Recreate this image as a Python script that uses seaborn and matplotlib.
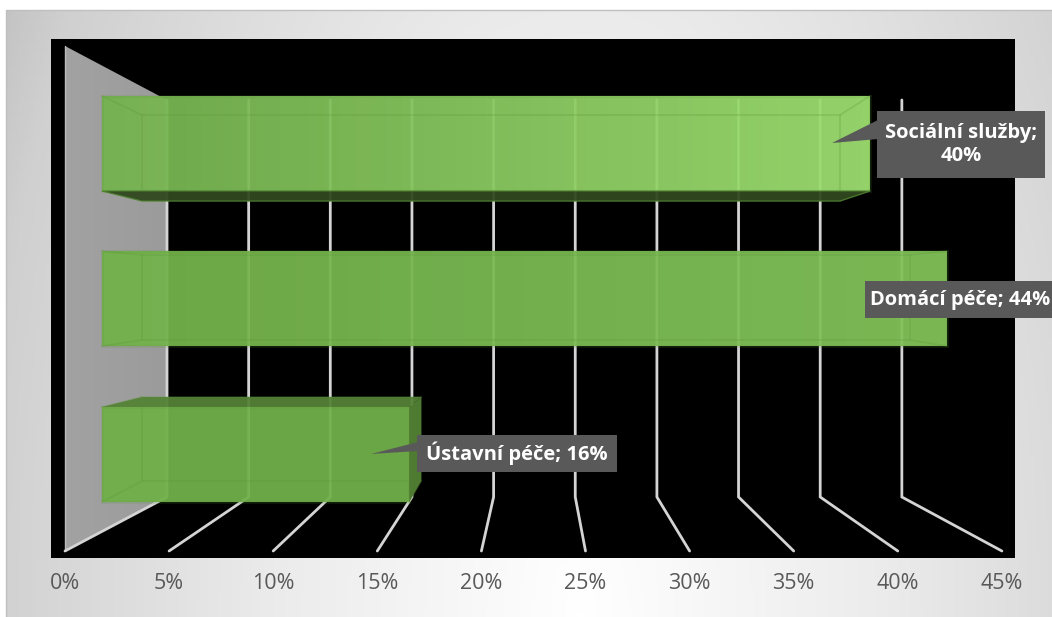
import numpy as np
import matplotlib
matplotlib.use("Agg")
import matplotlib.pyplot as plt
from matplotlib.colors import LinearSegmentedColormap
from matplotlib.patches import Polygon, Rectangle
import pandas as pd
import seaborn as sns

categories = ["Sociální služby", "Domácí péče", "Ústavní péče"]
values = [40, 44, 16]
tick_values = [0, 5, 10, 15, 20, 25, 30, 35, 40, 45]
tick_labels = ["0%", "5%", "10%", "15%", "20%", "25%", "30%", "35%", "40%", "45%"]

W, H = 1052, 617
sns.set_theme(style="white")
plt.rcParams["font.family"] = ["Open Sans", "DejaVu Sans"]
fig = plt.figure(figsize=(W / 100, H / 100), dpi=100, facecolor="white")

# overlay in pixel coordinates for the chart's 3D furniture
px = fig.add_axes([0, 0, 1, 1], zorder=0)
px.set_xlim(0, W); px.set_ylim(H, 0); px.axis("off")

# panel background: light at the bottom centre, grey towards the corners
yy, xx = np.mgrid[0:1:200j, 0:1:340j]
d = np.sqrt(0.7 * ((xx - 0.55) / 0.55) ** 2 + 0.2 * (yy - 1.0) ** 2)
bg = LinearSegmentedColormap.from_list(
    "bg", [(0, "#ffffff"), (0.45, "#ebebeb"), (0.87, "#d0d0d0"), (1, "#bcbcbc")])
px.imshow(d, extent=(6, 1052, 617, 10), cmap=bg, vmin=0, vmax=1, aspect="auto", zorder=0)
px.set_xlim(0, W); px.set_ylim(H, 0)
px.plot([6, 6, 1052], [617, 10, 10], color="#bfbfbf", lw=1, zorder=1)
px.add_patch(Rectangle((51, 39), 964, 519, fc="black", ec="none", zorder=2))

# back wall
F0, FS = 65.0, 20.82   # front edge of the floor: px at 0 and px per percent
B0, BS = 167.0, 16.33  # back wall
grad = LinearSegmentedColormap.from_list("wall", ["#a2a2a2", "#9b9b9b"])
im = px.imshow(np.linspace(0, 1, 50)[None, :], extent=(65, 167, 551, 46), cmap=grad, aspect="auto", zorder=3)
wall = Polygon([(65, 46), (167, 100), (167, 497), (65, 551)], closed=True, transform=px.transData, fc="none", ec="none")
px.add_patch(wall); im.set_clip_path(wall)
px.set_xlim(0, W); px.set_ylim(H, 0)
px.plot([65, 65], [46, 551], color="#bcbcbc", lw=1, zorder=4)

for v in tick_values:
    px.plot([F0 + FS * v, B0 + BS * v, B0 + BS * v], [551, 497, 100], color="#d4d4d4", lw=2.0,
            solid_joinstyle="miter", zorder=4)

# bars via seaborn; the axes is aligned so that value -> front-face pixel
ax = fig.add_axes([51 / W, 1 - 558 / H, 964 / W, 519 / H], zorder=2)
ax.patch.set_alpha(0)
df = pd.DataFrame({"cat": categories, "val": values})
sns.barplot(data=df, y="cat", x="val", order=categories, color="#70ad47", width=0.611,
            orient="h", ax=ax, saturation=1, alpha=0.15, edgecolor="#5a9138", linewidth=2.2, zorder=4)
for p in ax.patches:
    p.set_edgecolor("#5a9138")
ax.set_xlim((51 - 102) / 19.2, (1015 - 102) / 19.2)
ax.set_ylim(2.666, -0.672)
ax.set_xlabel(""); ax.set_ylabel(""); ax.set_xticks([]); ax.set_yticks([])
for s in ax.spines.values():
    s.set_visible(False)

ends = [("#76b452", "#a6e878"), ("#74b34c", "#86c85e"), ("#72b14a", "#74b24c")]
bar_rects = list(ax.patches)
for p, (c0, c1) in zip(bar_rects, ends):
    cm = LinearSegmentedColormap.from_list("b", [c0, c1])
    x0, y0, w, h = p.get_x(), p.get_y(), p.get_width(), p.get_height()
    ax.imshow(np.linspace(0, 1, 100)[None, :], extent=(x0, x0 + w, y0 + h, y0), cmap=cm,
              aspect="auto", alpha=0.94, zorder=3.5)
ax.set_xlim((51 - 102) / 19.2, (1015 - 102) / 19.2)
ax.set_ylim(2.666, -0.672)

# 3D faces of each bar, in pixels (overlay above bars)
top = fig.add_axes([0, 0, 1, 1], zorder=3)
top.set_xlim(0, W); top.set_ylim(H, 0); top.axis("off"); top.patch.set_alpha(0)
FX0, FK = 102.0, 19.2
BX0, BK = 142.0, 17.45
front_y = [(96, 191), (251, 346), (407, 502)]
back_y = [(115, 201), (255, 340), (397, 481)]
inner = dict(color="#5f9a3a", alpha=0.3, lw=1.2, zorder=3)
for v, (ft, fb), (bt, bb) in zip(values, front_y, back_y):
    fx = FX0 + FK * v
    bx = BX0 + BK * v
    top.plot([BX0, bx, bx, BX0, BX0], [bt, bt, bb, bb, bt], **inner)
    top.plot([FX0, BX0], [ft, bt], **inner)
    top.plot([FX0, BX0], [fb, bb], **inner)
    top.plot([fx, bx], [ft, bt], **inner)
    top.plot([fx, bx], [fb, bb], **inner)
    if bb > fb:
        top.add_patch(Polygon([(FX0, fb), (fx, fb), (bx, bb), (BX0, bb)], fc="#30481f", ec="#4f7f30", lw=0.8, alpha=0.95, zorder=3))
    if bt < ft:
        top.add_patch(Polygon([(FX0, ft), (fx, ft), (bx, bt), (BX0, bt)], fc="#558236", ec="none", alpha=0.95, zorder=3))
    if bx > fx:
        top.add_patch(Polygon([(fx, ft), (bx, bt), (bx, bb), (fx, fb)], fc="#4e7a31", ec="none", zorder=3))

# category data labels with callouts
BOX = "#595959"
labels = [f"{c}; {v}%" for c, v in zip(categories, values)]
boxes = [(877, 111, 1045, 178), (865, 281, 1052, 318), (417, 435, 617, 472)]
tips = [((832, 143), 877, 120, 139), (None, 0, 0, 0), ((371, 454), 417, 442, 451)]
texts = ["Sociální služby;\n40%", labels[1], labels[2]]
text_x = [961, 870, 517]
aligns = ["center", "left", "center"]
for (x0, y0, x1, y1), (tip, bx, a, b), t, tx, al in zip(boxes, tips, texts, text_x, aligns):
    top.add_patch(Rectangle((x0, y0), x1 - x0, y1 - y0, fc=BOX, ec="none", zorder=6))
    if tip is not None:
        top.add_patch(Polygon([tip, (bx + 1, a), (bx + 1, b)], fc=BOX, ec="none", zorder=6))
    top.text(tx, (y0 + y1) / 2, t, color="white", ha=al, va="center",
             fontsize=14.5, fontweight="bold", linespacing=1.25, zorder=7, clip_on=True)

# percent axis aligned so that value -> front floor pixel
ax2 = fig.add_axes([51 / W, 1 - 558 / H, 964 / W, 519 / H], zorder=1)
ax2.patch.set_alpha(0)
ax2.set_xlim((51 - F0) / FS, (1015 - F0) / FS)
ax2.set_yticks([])
ax2.set_xticks(tick_values)
ax2.set_xticklabels(tick_labels, fontsize=15.5, color="#595959")
ax2.tick_params(axis="x", length=0, pad=11)
for s in ax2.spines.values():
    s.set_visible(False)

fig.savefig("out.png", dpi=100)
